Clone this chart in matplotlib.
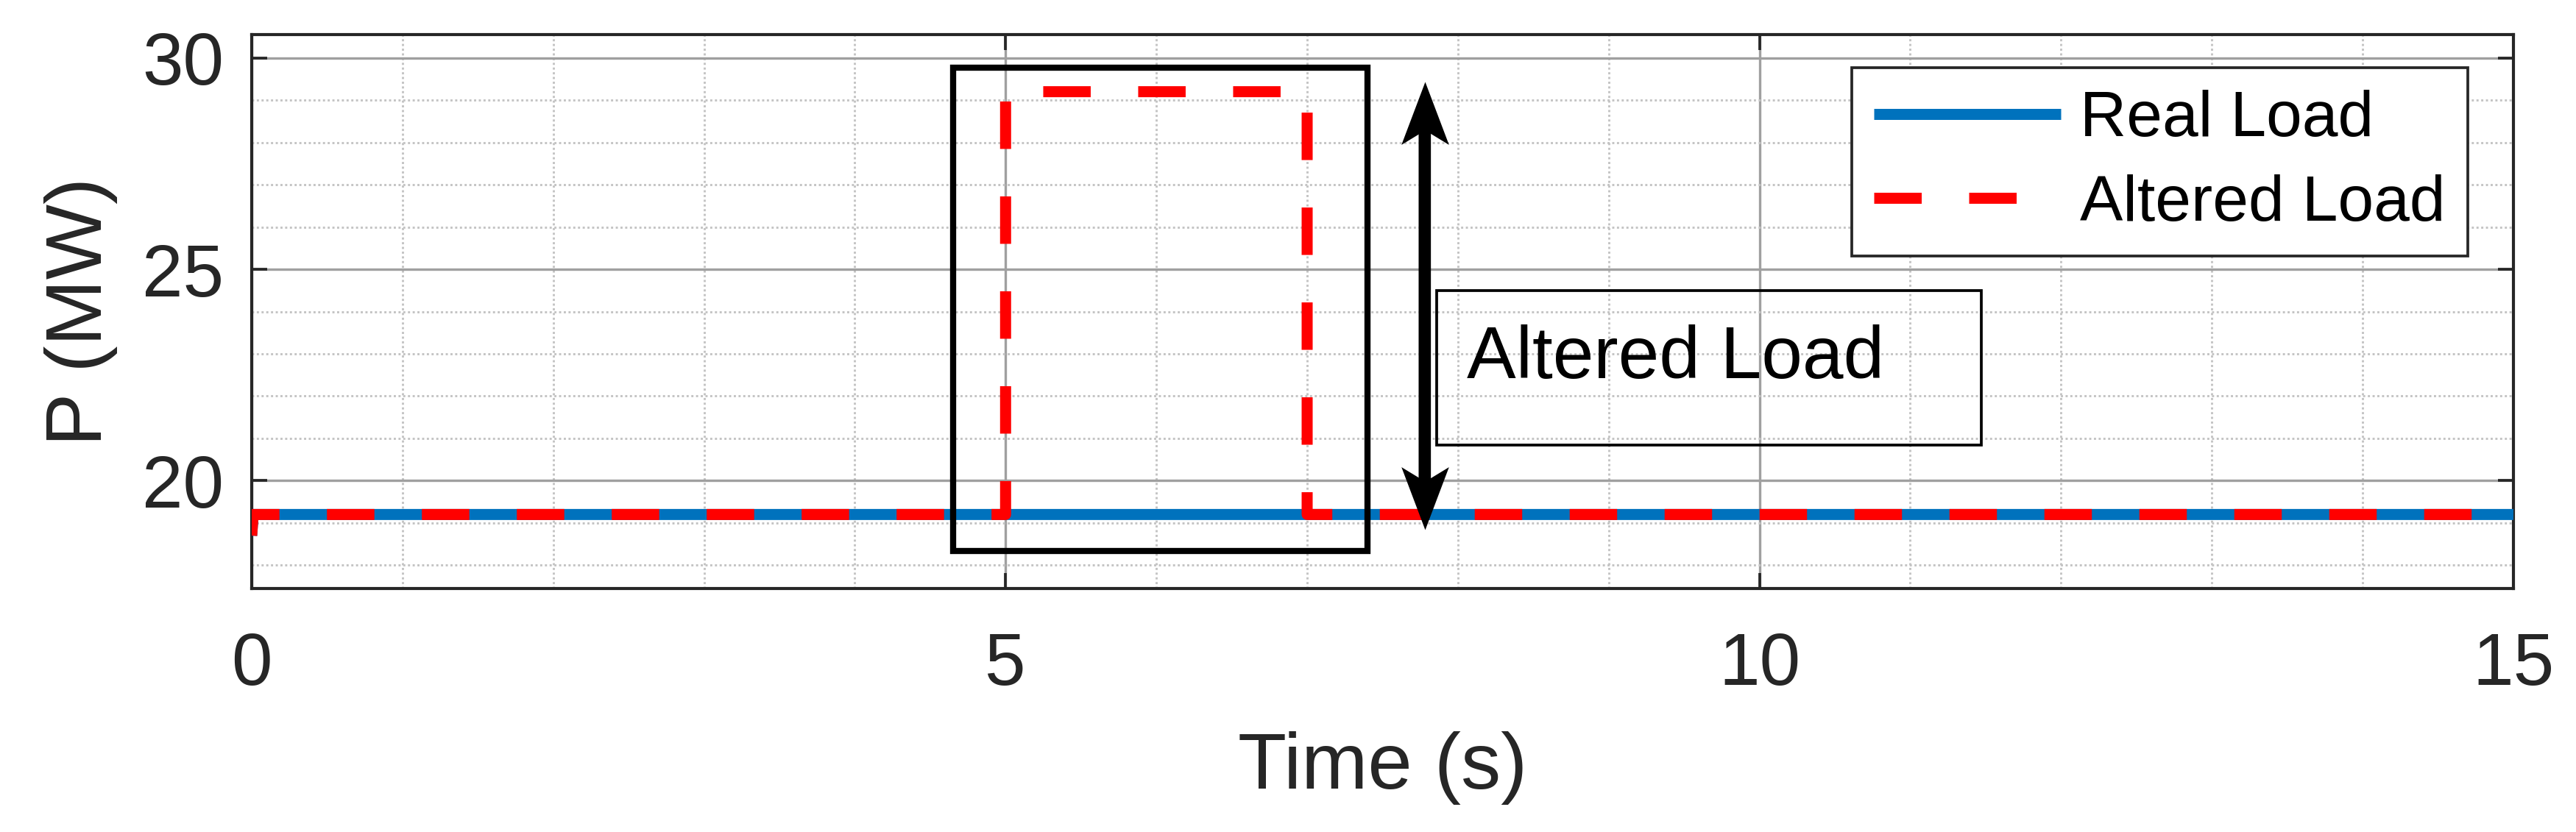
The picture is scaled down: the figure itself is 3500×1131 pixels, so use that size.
import matplotlib
matplotlib.use("Agg")
import matplotlib.pyplot as plt
from matplotlib.patches import Rectangle, FancyArrowPatch
from matplotlib.ticker import MultipleLocator

# ---------------------------------------------------------------------------
# Data
# ---------------------------------------------------------------------------
t_real = [0.0, 0.01, 15.0]
p_real = [18.7, 19.2, 19.2]

t_alt = [0.0, 0.01, 5.0, 5.0, 7.0, 7.0, 15.0]
p_alt = [18.7, 19.2, 19.2, 29.2, 29.2, 19.2, 19.2]

series_labels = ["Real Load", "Altered Load"]
note_text = "Altered Load"

# annotation geometry (data units)
box_x0, box_x1, box_y0, box_y1 = 4.65, 7.40, 18.33, 29.77
arrow_x, arrow_y0, arrow_y1 = 7.78, 18.84, 29.43
tbox_x0, tbox_x1, tbox_y0, tbox_y1 = 7.86, 11.47, 20.85, 24.50

DARK = "#262626"
BLUE = "#0072BD"
RED = "#FF0000"

plt.rcParams["font.family"] = ["Liberation Sans", "DejaVu Sans"]

fig = plt.figure(figsize=(3500 / 300, 1131 / 300), dpi=300)
ax = fig.add_axes([0.0977, 0.2927, 0.878, 0.6657])

ax.plot(t_real, p_real, color=BLUE, lw=3.6, solid_capstyle="butt",
        solid_joinstyle="round", label=series_labels[0], zorder=3)
ax.plot(t_alt, p_alt, color=RED, lw=3.6, dashes=(4.3, 4.3),
        dash_capstyle="butt", dash_joinstyle="round",
        label=series_labels[1], zorder=4)

ax.set_xlim(0, 15)
ax.set_ylim(17.45, 30.55)

ax.xaxis.set_major_locator(MultipleLocator(5))
ax.xaxis.set_minor_locator(MultipleLocator(1))
ax.yaxis.set_major_locator(MultipleLocator(5))
ax.yaxis.set_minor_locator(MultipleLocator(1))

ax.grid(which="major", color="#a0a0a0", lw=0.8, ls="-", zorder=0)
ax.grid(which="minor", color="#c4c4c4", lw=0.7, ls=(0, (1, 1.2)), zorder=0)
ax.set_axisbelow(True)

ax.tick_params(which="major", direction="in", length=5, width=0.9,
               color=DARK, labelcolor=DARK, labelsize=24,
               top=True, right=True)
ax.tick_params(axis="x", which="major", pad=14)
ax.tick_params(axis="y", which="major", pad=9)
ax.tick_params(which="minor", length=0)

for s in ax.spines.values():
    s.set_color(DARK)
    s.set_linewidth(1.0)

ax.set_xlabel("Time (s)", fontsize=26, color=DARK, labelpad=10)
ax.set_ylabel("P (MW)", fontsize=26, color=DARK, labelpad=8)

# highlight box around the attack window
ax.add_patch(Rectangle((box_x0, box_y0), box_x1 - box_x0, box_y1 - box_y0,
                       fill=False, ec="black", lw=2.0, zorder=5))

# double headed arrow: shaft + notched heads
ax.add_patch(FancyArrowPatch((arrow_x, arrow_y0), (arrow_x, arrow_y1),
                             arrowstyle="-", color="black", lw=4.0,
                             capstyle="butt", shrinkA=15, shrinkB=15,
                             zorder=5))
head_up = [(0, 0), (0.378, -1), (0, -0.77), (-0.378, -1), (0, 0)]
head_dn = [(x, -y) for x, y in head_up]
ax.plot([arrow_x], [arrow_y1], marker=head_up, ms=41, color="black",
        mew=0, ls="none", zorder=6)
ax.plot([arrow_x], [arrow_y0], marker=head_dn, ms=41, color="black",
        mew=0, ls="none", zorder=6)

# text box (transparent, grid shows through)
ax.add_patch(Rectangle((tbox_x0, tbox_y0), tbox_x1 - tbox_x0, tbox_y1 - tbox_y0,
                       fill=False, ec="black", lw=0.9, zorder=5))
ax.text(tbox_x0 + 0.2, (tbox_y0 + tbox_y1) / 2 + 0.2, note_text, fontsize=24,
        ha="left", va="center", color="black", zorder=6)

leg = ax.legend(loc="upper right", bbox_to_anchor=(0.98, 0.9407),
                borderaxespad=0, fontsize=21, handlelength=2.9,
                handletextpad=0.3, labelspacing=0.38, borderpad=0.35,
                fancybox=False, framealpha=1, edgecolor=DARK)
leg.get_frame().set_linewidth(0.9)
leg.set_zorder(7)
for txt in leg.get_texts():
    txt.set_color("black")

fig.savefig("out.png", dpi=300, facecolor="white")
